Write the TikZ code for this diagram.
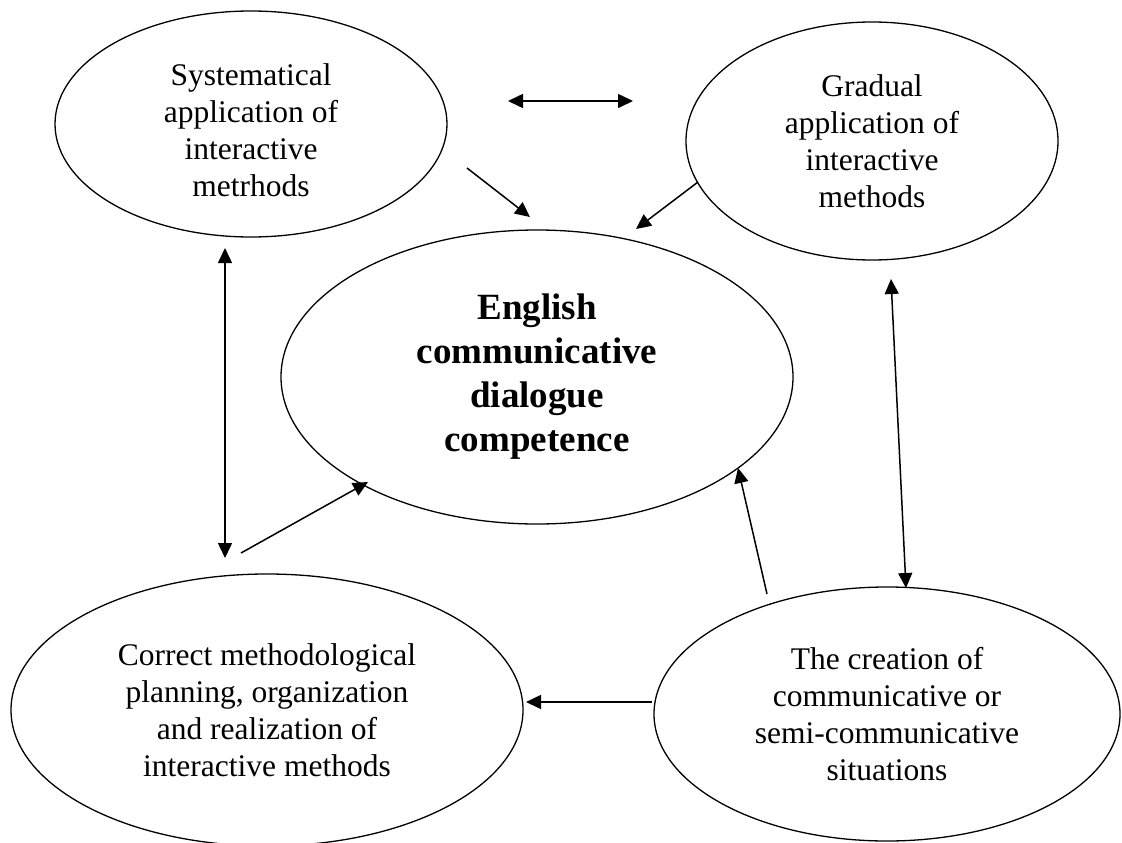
\documentclass[tikz,border=0pt]{standalone}
\usepackage{fontspec}
\setmainfont{Liberation Serif}
\usetikzlibrary{shapes.geometric,arrows.meta,positioning}

\tikzset{
  bubble/.style={draw, ellipse, line width=1.3pt, inner sep=0pt, align=center,
    font=\fontsize{31.5}{37}\selectfont},
  link/.style={line width=1.5pt, -{Triangle[length=15pt,width=14pt]}},
  twolink/.style={line width=1.5pt, {Triangle[length=15pt,width=14pt]}-{Triangle[length=15pt,width=14pt]}}
}

\begin{document}
\begin{tikzpicture}[x=1pt,y=-1pt]
    \useasboundingbox (0,0) rectangle (1122,843);
    % Ellipses
    \node[bubble, minimum width=392pt, minimum height=226pt] (syst) at (251,124)
        {\rule{0pt}{34pt}Systematical\\application of\\interactive\\metrhods};
    \node[bubble, minimum width=372pt, minimum height=238pt] (grad) at (872,141)
        {Gradual\\application of\\interactive\\methods};
    \node[bubble, minimum width=512pt, minimum height=294pt,
        font=\bfseries\fontsize{37}{44}\selectfont] (comp) at (537,377)
        {English\\communicative\\dialogue\\competence};
    \node[bubble, minimum width=512pt, minimum height=272pt] (plan) at (267,710)
        {Correct methodological\\planning, organization\\and realization of\\interactive methods};
    \node[bubble, minimum width=466pt, minimum height=254pt] (situ) at (887,714)
        {The creation of\\communicative or\\semi-communicative\\situations};
    % Arrow ends
    \coordinate (a1) at (508,101);
    \coordinate (a2) at (633,101);
    \coordinate (b1) at (467,168);
    \coordinate (b2) at (530,217);
    \coordinate (c1) at (698,182);
    \coordinate (c2) at (636,229);
    \coordinate (d1) at (225,248);
    \coordinate (d2) at (225,558);
    \coordinate (e1) at (241,553);
    \coordinate (e2) at (368,482);
    \coordinate (f1) at (891,279);
    \coordinate (f2) at (906,588);
    \coordinate (g1) at (767,594);
    \coordinate (g2) at (738,468);
    \coordinate (h1) at (652,702);
    \coordinate (h2) at (526,702);
    % Arrows
    \draw[twolink] (a1) -- (a2);
    \draw[link] (b1) -- (b2);
    \draw[link] (c1) -- (c2);
    \draw[twolink] (d1) -- (d2);
    \draw[link] (e1) -- (e2);
    \draw[twolink] (f1) -- (f2);
    \draw[link] (g1) -- (g2);
    \draw[link] (h1) -- (h2);
\end{tikzpicture}
\end{document}
